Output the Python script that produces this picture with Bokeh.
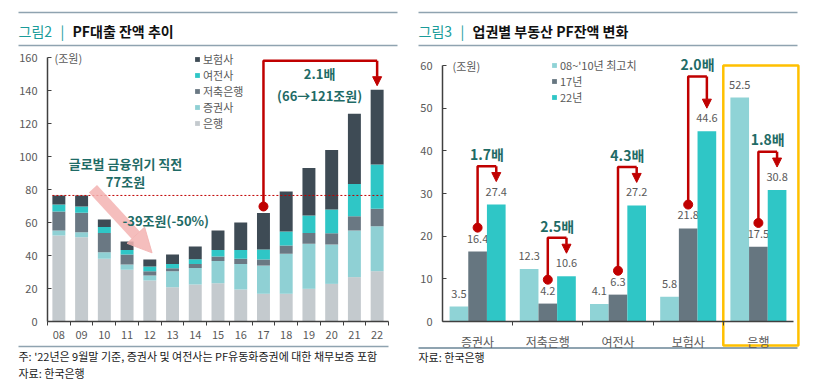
import numpy as np
from bokeh.plotting import figure
from bokeh.models import (ColumnDataSource, Range1d, FixedTicker, Legend, LegendItem,
                          Label, Arrow, NormalHead)
from bokeh.layouts import row
from bokeh.embed import file_html
from bokeh.resources import INLINE
from bokeh.core.properties import value

FONT = "Noto Sans CJK KR"

# ---------------- data: 그림2 PF대출 잔액 추이 (조원) ----------------
years = ["08", "09", "10", "11", "12", "13", "14", "15", "16", "17", "18", "19", "20", "21", "22"]
bank       = [52.1, 51.1, 38.0, 31.3, 24.8, 20.8, 22.4, 23.2, 19.4, 16.8, 16.8, 19.8, 22.8, 26.9, 30.5]
securities = [3.1, 3.0, 4.0, 3.2, 3.1, 9.7, 10.1, 13.4, 15.5, 17.1, 24.2, 27.3, 23.9, 28.3, 27.3]
savings    = [11.5, 11.8, 11.7, 6.1, 2.6, 1.8, 2.4, 2.8, 3.1, 3.7, 5.1, 6.6, 6.8, 8.6, 10.5]
card       = [4.2, 3.8, 3.5, 2.8, 2.8, 2.6, 2.9, 4.0, 5.4, 6.0, 8.4, 10.5, 14.4, 19.6, 26.9]
insurance  = [5.5, 6.7, 4.6, 5.1, 4.3, 5.7, 7.7, 11.8, 16.6, 22.1, 24.3, 28.9, 36.1, 42.5, 45.2]
series_names = ["은행", "증권사", "저축은행", "여전사", "보험사"]
left_y_ticks = [0, 20, 40, 60, 80, 100, 120, 140, 160]

# ---------------- data: 그림3 업권별 부동산 PF잔액 변화 (조원) ----------------
sectors = ["증권사", "저축은행", "여전사", "보험사", "은행"]
peak_0810 = [3.5, 12.3, 4.1, 5.8, 52.5]
y2017 = [16.4, 4.2, 6.3, 21.8, 17.5]
y2022 = [27.4, 10.6, 27.2, 44.6, 30.8]
right_series = ["08~'10년 최고치", "17년", "22년"]
right_y_ticks = [0, 10, 20, 30, 40, 50, 60]

# ---------------- styles ----------------
C_BANK, C_SEC, C_SAV, C_CARD, C_INS = "#c4cace", "#8fd0d4", "#6a7883", "#2fc6c6", "#3e4b55"
RED = "#c00000"
ANN = "#1f6b66"
TEAL = "#1a9c9a"
GRAY = "#595959"
RULE = "#8fa3b0"
AXIS = "#404040"
GOLD = "#ffc000"
NOTE = "#1a1a1a"
H = 381


def span(pa, va, pb, vb, plo, phi):
    k = (vb - va) / (pb - pa)
    return va + (plo - pa) * k, va + (phi - pa) * k


def panel(W, xa_px, xa_v, xb_px, xb_v, ya_px, ya_v, yb_px, yb_v):
    x0, x1 = span(xa_px, xa_v, xb_px, xb_v, 0, W)
    y0, y1 = span(ya_px, ya_v, yb_px, yb_v, H, 0)
    p = figure(width=W, height=H, x_range=Range1d(x0, x1), y_range=Range1d(y0, y1),
               output_backend="svg", toolbar_location=None, min_border=0,
               min_border_left=0, min_border_right=0, min_border_top=0, min_border_bottom=0)
    p.extra_x_ranges = {"px": Range1d(0, W)}
    p.extra_y_ranges = {"py": Range1d(H, 0)}
    p.grid.visible = False
    p.outline_line_color = None
    for ax in (p.xaxis[0], p.yaxis[0]):
        ax.axis_line_color = AXIS
        ax.axis_line_width = 1.5
        ax.major_tick_line_color = AXIS
        ax.minor_tick_line_color = AXIS
        ax.major_label_text_font = FONT
        ax.major_label_text_color = GRAY
    p.yaxis.major_tick_in = 4
    p.yaxis.major_tick_out = 0
    p.yaxis.minor_tick_in = 0
    p.yaxis.minor_tick_out = 0
    p.xaxis.major_tick_in = 0
    p.xaxis.major_tick_out = 0
    p.xaxis.minor_tick_in = 0
    p.xaxis.minor_tick_out = 4
    return p


def put_text(p, x, y, t, size, color, style="normal", align="left"):
    p.text(x=[x], y=[y], text=[t], text_font=value(FONT), text_font_size=size,
           text_color=color, text_font_style=style, text_align=align,
           text_baseline="middle", x_range_name="px", y_range_name="py")


def rule(p, x0, x1, y, w=1.5):
    p.segment(x0=[x0], x1=[x1], y0=[y], y1=[y], line_color=RULE, line_width=w,
              x_range_name="px", y_range_name="py")


# ================= LEFT PANEL =================
W1 = 408
n = len(years)
xs = np.arange(n)
p1 = panel(W1, 47, -0.5, 388, n - 0.5, 321, left_y_ticks[0], 57, left_y_ticks[-1])
p1.yaxis.fixed_location = -0.5
p1.yaxis.bounds = (left_y_ticks[0], left_y_ticks[-1])
p1.yaxis.ticker = FixedTicker(ticks=left_y_ticks)
p1.yaxis.major_label_text_font_size = "11px"
p1.yaxis.major_label_standoff = 10
p1.xaxis.fixed_location = 0
p1.xaxis.bounds = (-0.5, n - 0.5)
p1.xaxis.ticker = FixedTicker(ticks=list(xs), minor_ticks=[i - 0.5 for i in range(n + 1)])
p1.xaxis.major_label_overrides = {int(i): years[i] for i in range(n)}
p1.xaxis.major_label_text_font_size = "11px"
p1.xaxis.major_label_standoff = 5

rule(p1, 18, 397, 12)
rule(p1, 18, 397, 45)
put_text(p1, 18, 30, "그림2", "14px", TEAL)
put_text(p1, 60, 30, "|", "14px", TEAL)
put_text(p1, 72, 30, "PF대출 잔액 추이", "14px", "#111111", "bold")
rule(p1, 18, 388, 346)
put_text(p1, 18, 355, "주: '22년은 9월말 기준, 증권사 및 여전사는 PF유동화증권에 대한 채무보증 포함",
         "11px", NOTE)
put_text(p1, 18, 372, "자료: 한국은행", "11px", NOTE)

src1 = ColumnDataSource(dict(x=xs, 은행=bank, 증권사=securities, 저축은행=savings,
                             여전사=card, 보험사=insurance))
bw1 = 0.57
rs = p1.vbar_stack(series_names, x="x", width=bw1, source=src1,
                   color=[C_BANK, C_SEC, C_SAV, C_CARD, C_INS], line_width=0)
leg1 = Legend(items=[LegendItem(label=series_names[k], renderers=[rs[k]]) for k in range(4, -1, -1)],
              location=(194, 250), glyph_width=6, glyph_height=6, label_height=15,
              spacing=0, padding=0, margin=0, label_standoff=3,
              label_text_font=FONT, label_text_font_size="11px", label_text_color=GRAY,
              background_fill_alpha=0, border_line_color=None)
p1.add_layout(leg1)

totals = [b + s + v + c + i for b, s, v, c, i in zip(bank, securities, savings, card, insurance)]
# pre-crisis reference line
p1.segment(x0=[0 - bw1 / 2], x1=[n - 1 + bw1 / 2], y0=[totals[0]], y1=[totals[0]],
           line_color=RED, line_dash="2 2", line_width=1)
# pink decline arrow
p1.add_layout(Arrow(x_start=1.5, y_start=totals[1] + 4, x_end=4.1, y_end=totals[4] + 4,
                    line_color="#f3b3b1", line_width=11, line_alpha=0.85,
                    end=NormalHead(size=24, fill_color="#f3b3b1", line_color="#f3b3b1",
                                   fill_alpha=0.85, line_alpha=0.85)))
# red bracket 17 -> 22
i17, i22 = years.index("17"), years.index("22")
top1 = 158
p1.line(x=[i17, i17, i22], y=[totals[i17] + 4, top1, top1], line_color=RED, line_width=2.5)
p1.add_layout(Arrow(x_start=i22, y_start=top1, x_end=i22, y_end=totals[i22] + 2.5,
                    line_color=RED, line_width=2.5,
                    end=NormalHead(size=9, fill_color=RED, line_color=RED)))
p1.scatter(x=[i17], y=[totals[i17] + 4], size=9, color=RED)

for (tx, ty, tt) in [(2.93, 95.8, "글로벌 금융위기 직전"), (2.93, 84.8, "77조원"),
                     (4.7, 61.2, "-39조원(-50%)"), (11.47, 150.3, "2.1배"),
                     (11.47, 137.0, "(66→121조원)")]:
    p1.add_layout(Label(x=tx, y=ty, text=tt, text_font=FONT, text_font_size="13px",
                        text_font_style="bold", text_color=ANN, text_align="center",
                        text_baseline="middle"))
p1.add_layout(Label(x=-0.5, y=left_y_ticks[-1], x_offset=7, text="(조원)", text_font=FONT,
                    text_font_size="11px", text_color=GRAY, text_baseline="middle"))

# ================= RIGHT PANEL =================
W2 = 405
m = len(sectors)
xs2 = np.arange(m)
bw2 = 0.266
p2 = panel(W2, 34, -0.5, 385, m - 0.5, 321, right_y_ticks[0], 65, right_y_ticks[-1])
p2.yaxis.fixed_location = -0.5
p2.yaxis.bounds = (right_y_ticks[0], right_y_ticks[-1])
p2.yaxis.ticker = FixedTicker(ticks=right_y_ticks)
p2.yaxis.major_label_text_font_size = "11px"
p2.yaxis.major_label_standoff = 10
p2.xaxis.fixed_location = 0
p2.xaxis.bounds = (-0.5, m - 0.5)
p2.xaxis.ticker = FixedTicker(ticks=list(xs2), minor_ticks=[i + 0.5 for i in range(m - 1)])
p2.xaxis.major_label_overrides = {int(i): sectors[i] for i in range(m)}
p2.xaxis.major_label_text_font_size = "12px"
p2.xaxis.major_label_standoff = 7

rule(p2, 10, 389, 12)
rule(p2, 10, 389, 45)
put_text(p2, 10, 30, "그림3", "14px", TEAL)
put_text(p2, 52, 30, "|", "14px", TEAL)
put_text(p2, 64, 30, "업권별 부동산 PF잔액 변화", "14px", "#111111", "bold")
rule(p2, 10, 389, 347.5, 2)
put_text(p2, 10, 356, "자료: 한국은행", "11px", NOTE)

# highlight box around 은행
ib = sectors.index("은행")
p2.quad(left=[ib - 0.5], right=[ib + 0.57], top=[right_y_ticks[-1]], bottom=[-5.6],
        fill_alpha=0, line_color=GOLD, line_width=2.5)

cols2 = ["#8fd3d6", "#667680", "#2fc6c6"]
rr = []
for k, (vals, off) in enumerate(zip([peak_0810, y2017, y2022], [-bw2, 0, bw2])):
    s = ColumnDataSource(dict(x=xs2 + off, top=vals, lab=[f"{v:.1f}" for v in vals]))
    rr.append(p2.vbar(x="x", top="top", width=bw2, source=s, color=cols2[k], line_width=0))
    p2.text(x="x", y="top", text="lab", source=s, text_font=value(FONT), text_font_size="11px",
            text_color=GRAY, text_align="center", text_baseline="middle", y_offset=-13)

leg2 = Legend(items=[LegendItem(label=right_series[k], renderers=[rr[k]]) for k in range(3)],
              location=(143, 276), glyph_width=6, glyph_height=6, label_height=16,
              spacing=0, padding=0, margin=0, label_standoff=3,
              label_text_font=FONT, label_text_font_size="11px", label_text_color=GRAY,
              background_fill_alpha=0, border_line_color=None)
p2.add_layout(leg2)

bracket_extra = [0, 0, 0, 3.8, 0]
for i in range(m):
    xa, xb = i, i + bw2
    dot = y2017[i] + 5.6
    top = y2022[i] + 9 + bracket_extra[i]
    p2.line(x=[xa, xa, xb], y=[dot, top, top], line_color=RED, line_width=2.5)
    p2.add_layout(Arrow(x_start=xb, y_start=top, x_end=xb, y_end=y2022[i] + 5.4,
                        line_color=RED, line_width=2.5,
                        end=NormalHead(size=9, fill_color=RED, line_color=RED)))
    p2.scatter(x=[xa], y=[dot], size=9, color=RED)
    p2.add_layout(Label(x=(xa + xb) / 2, y=top + 2.9, text=f"{y2022[i] / y2017[i]:.1f}배",
                        text_font=FONT, text_font_size="14px", text_font_style="bold",
                        text_color=ANN, text_align="center", text_baseline="middle"))

p2.add_layout(Label(x=-0.5, y=right_y_ticks[-1], x_offset=10, text="(조원)", text_font=FONT,
                    text_font_size="11px", text_color=GRAY, text_baseline="middle"))

layout = row(p1, p2)
open("out.html", "w").write(file_html(layout, INLINE))
